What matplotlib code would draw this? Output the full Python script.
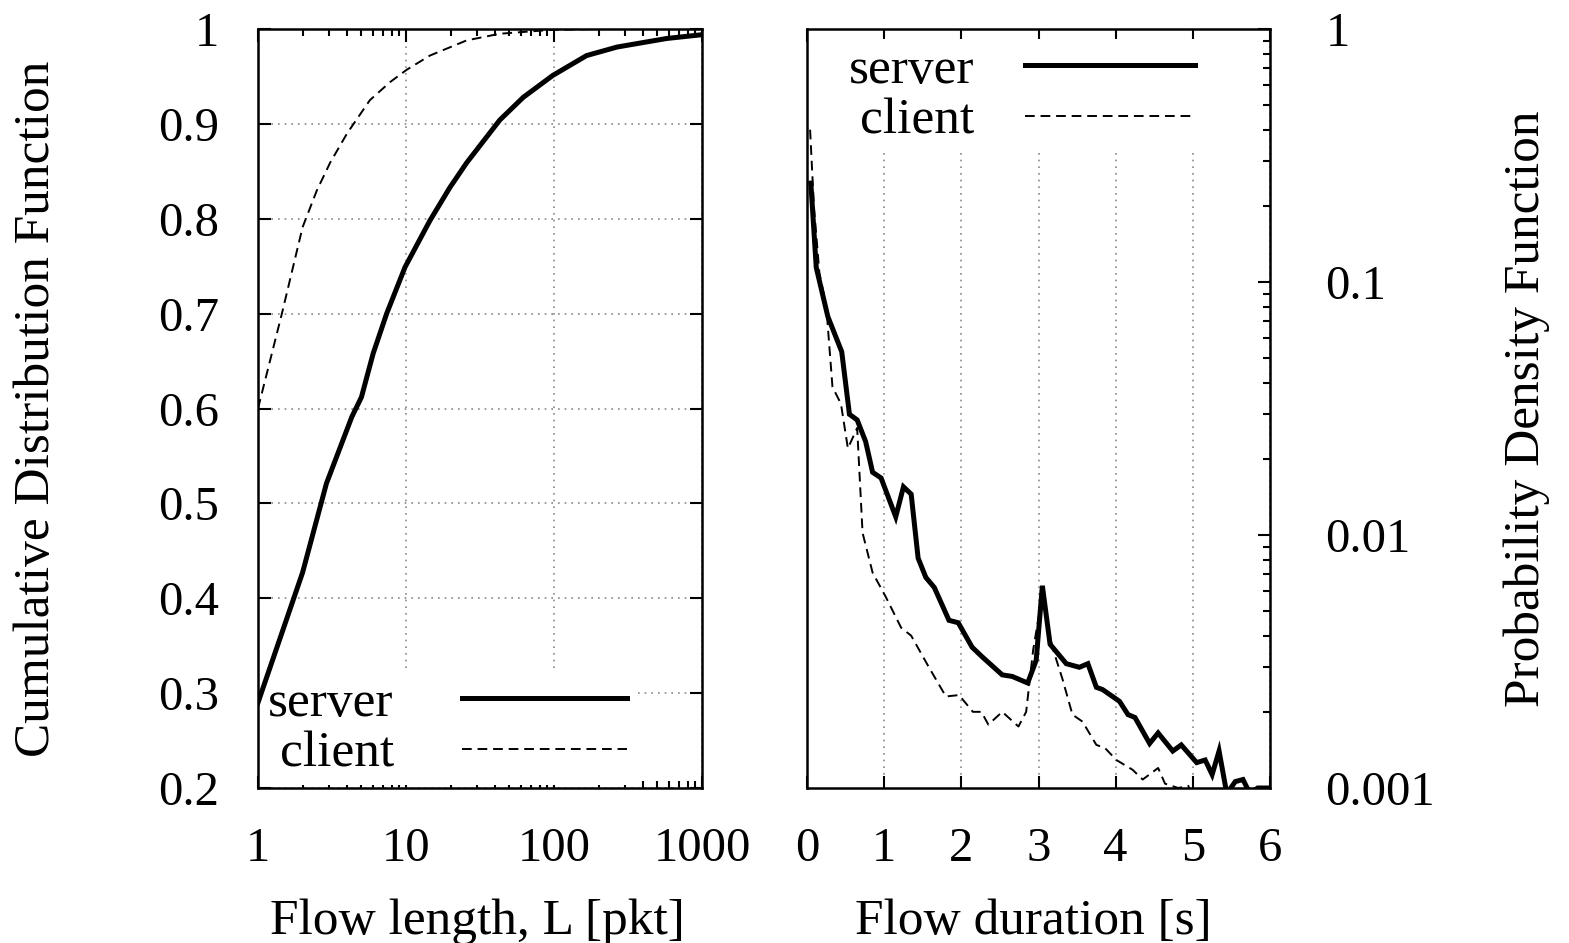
import numpy as np
import matplotlib
matplotlib.use('Agg')
import matplotlib.pyplot as plt
from matplotlib.ticker import FixedLocator, FuncFormatter, LogLocator, NullFormatter

plt.rcParams['font.family'] = ['Liberation Serif', 'DejaVu Serif']
plt.rcParams['font.size'] = 35

# CDF de la longueur des flux (paquets)
len_server_x = [1, 2.0, 2.9, 4.3, 5.0, 6.0, 7.4, 9.85, 14.5, 19.8, 25.7, 43, 62, 98, 166, 267, 577, 1000]
len_server_y = [0.29, 0.427, 0.521, 0.591, 0.612, 0.658, 0.70, 0.749, 0.798, 0.833, 0.859, 0.904,
                0.928, 0.951, 0.972, 0.981, 0.990, 0.994]
len_client_x = [1, 1.45, 2.0, 2.5, 3.07, 4.0, 5.7, 7.8, 10.1, 14.5, 25.7, 43, 94, 200, 1000]
len_client_y = [0.60, 0.70, 0.791, 0.83, 0.859, 0.89, 0.925, 0.944, 0.957, 0.972, 0.988, 0.995,
                0.999, 1.0, 1.0]

# PDF de la durée des flux (s)
dur_server_x = [0.05, 0.12, 0.27, 0.45, 0.55, 0.65, 0.76, 0.85, 0.96, 1.15, 1.25, 1.35, 1.44, 1.54,
                1.65, 1.84, 1.96, 2.14, 2.27, 2.53, 2.66, 2.86, 2.97, 3.05, 3.15, 3.36, 3.53, 3.64,
                3.75, 3.83, 4.05, 4.16, 4.25, 4.44, 4.55, 4.74, 4.85, 5.05, 5.16, 5.25, 5.34, 5.44,
                5.55, 5.65, 5.74, 5.84, 6.0]
dur_server_y = [0.246, 0.114, 0.073, 0.053, 0.030, 0.0285, 0.0234, 0.0177, 0.0168, 0.0118, 0.0155,
                0.0145, 0.0081, 0.0068, 0.0062, 0.0046, 0.0045, 0.0036, 0.0033, 0.0028, 0.00276,
                0.0026, 0.0032, 0.0063, 0.0037, 0.0031, 0.0030, 0.0031, 0.0025, 0.00245, 0.0022,
                0.00195, 0.0019, 0.0015, 0.00165, 0.0014, 0.00148, 0.00126, 0.00129, 0.00113,
                0.0014, 0.00095, 0.00106, 0.00108, 0.00095, 0.001, 0.001]
dur_client_x = [0.04, 0.09, 0.16, 0.25, 0.33, 0.44, 0.53, 0.65, 0.72, 0.85, 1.02, 1.22, 1.35, 1.58,
                1.8, 1.97, 2.15, 2.26, 2.35, 2.53, 2.74, 2.84, 2.93, 3.05, 3.18, 3.31, 3.44, 3.57,
                3.75, 3.86, 4.01, 4.22, 4.35, 4.55, 4.64, 4.81, 4.94, 4.99]
dur_client_y = [0.40, 0.198, 0.109, 0.080, 0.0385, 0.033, 0.022, 0.0265, 0.0102, 0.0071, 0.0057,
                0.0043, 0.0040, 0.0030, 0.0023, 0.00233, 0.0020, 0.0020, 0.00178, 0.0020, 0.00175,
                0.0020, 0.0035, 0.0058, 0.0036, 0.0027, 0.00195, 0.00183, 0.00148, 0.00144,
                0.00129, 0.00118, 0.00108, 0.0012, 0.00104, 0.001, 0.00102, 0.00095]

W, H = 1569, 943
fig = plt.figure(figsize=(W / 100, H / 100), dpi=100)
ax1 = fig.add_axes([258 / W, 1 - 788 / H, 444 / W, 759 / H])
ax2 = fig.add_axes([807 / W, 1 - 788 / H, 463 / W, 759 / H])

solid = dict(color='black', lw=3.6, solid_joinstyle='miter')
dashed = dict(color='black', lw=1.4, dashes=(5, 3))
grid = dict(color='#888888', linestyle=(0, (1, 3)), lw=1.2)
leg_style = dict(markerfirst=False, frameon=True, framealpha=1, edgecolor='none',
                 facecolor='white', fancybox=False, borderpad=0.15, borderaxespad=0.05,
                 labelspacing=0.08, fontsize=37)

# --- panneau gauche : CDF ---
ax1.plot(len_server_x, len_server_y, label='server', **solid)
ax1.plot(len_client_x, len_client_y, label='client', **dashed)
ax1.set_xscale('log')
ax1.set_xlim(1, 1000)
ax1.set_ylim(0.2, 1)
ax1.set_yticks([0.2, 0.3, 0.4, 0.5, 0.6, 0.7, 0.8, 0.9, 1.0])
ax1.yaxis.set_major_formatter(FuncFormatter(lambda v, p: '%g' % v))
ax1.xaxis.set_major_locator(FixedLocator([1, 10, 100, 1000]))
ax1.xaxis.set_major_formatter(FuncFormatter(lambda v, p: '%g' % v))
ax1.xaxis.set_minor_locator(LogLocator(base=10, subs=np.arange(2, 10)))
ax1.xaxis.set_minor_formatter(NullFormatter())
ax1.tick_params(which='both', direction='in', top=True, right=True, width=1.5)
ax1.tick_params(which='major', length=9)
ax1.tick_params(which='minor', length=5)
ax1.tick_params(axis='y', pad=28)
ax1.tick_params(axis='x', pad=28)
ax1.grid(True, which='major', **grid)
ax1.set_axisbelow(True)
ax1.set_ylabel('Cumulative Distribution Function', fontsize=37)
ax1.yaxis.set_label_coords(-0.445, 0.5)
ax1.set_xlabel('Flow length, L [pkt]', fontsize=37)
ax1.xaxis.set_label_coords(0.495, -0.145)
leg1 = ax1.legend(loc='lower left', handlelength=3.2, handletextpad=1.33, **leg_style)
leg1.set_zorder(1.5)

# --- panneau droit : PDF ---
ax2.plot(dur_server_x, dur_server_y, label='server', **solid)
ax2.plot(dur_client_x, dur_client_y, label='client', **dashed)
ax2.set_yscale('log')
ax2.set_xlim(0, 6)
ax2.set_ylim(0.001, 1)
ax2.set_xticks([0, 1, 2, 3, 4, 5, 6])
ax2.yaxis.set_major_locator(FixedLocator([0.001, 0.01, 0.1, 1]))
ax2.yaxis.set_major_formatter(FuncFormatter(lambda v, p: '%g' % v))
ax2.yaxis.set_minor_locator(LogLocator(base=10, subs=np.arange(2, 10)))
ax2.yaxis.set_minor_formatter(NullFormatter())
ax2.yaxis.tick_right()
ax2.tick_params(which='both', direction='in', top=True, left=False, right=True, width=1.5)
ax2.tick_params(which='major', length=9)
ax2.tick_params(which='minor', length=5)
ax2.tick_params(axis='y', pad=40)
ax2.tick_params(axis='x', pad=28)
ax2.grid(True, axis='x', **grid)
ax2.set_axisbelow(True)
ax2.yaxis.set_label_position('right')
ax2.set_ylabel('Probability Density Function', fontsize=37)
ax2.yaxis.set_label_coords(1.505, 0.5)
ax2.set_xlabel('Flow duration [s]', fontsize=37)
ax2.xaxis.set_label_coords(0.49, -0.145)
leg2 = ax2.legend(loc='upper right', handlelength=3.3, handletextpad=1.0,
                  bbox_to_anchor=(0.86, 0.99), **leg_style)

for ax in (ax1, ax2):
    for s in ax.spines.values():
        s.set_linewidth(1.8)

fig.savefig('out.png', dpi=100)
